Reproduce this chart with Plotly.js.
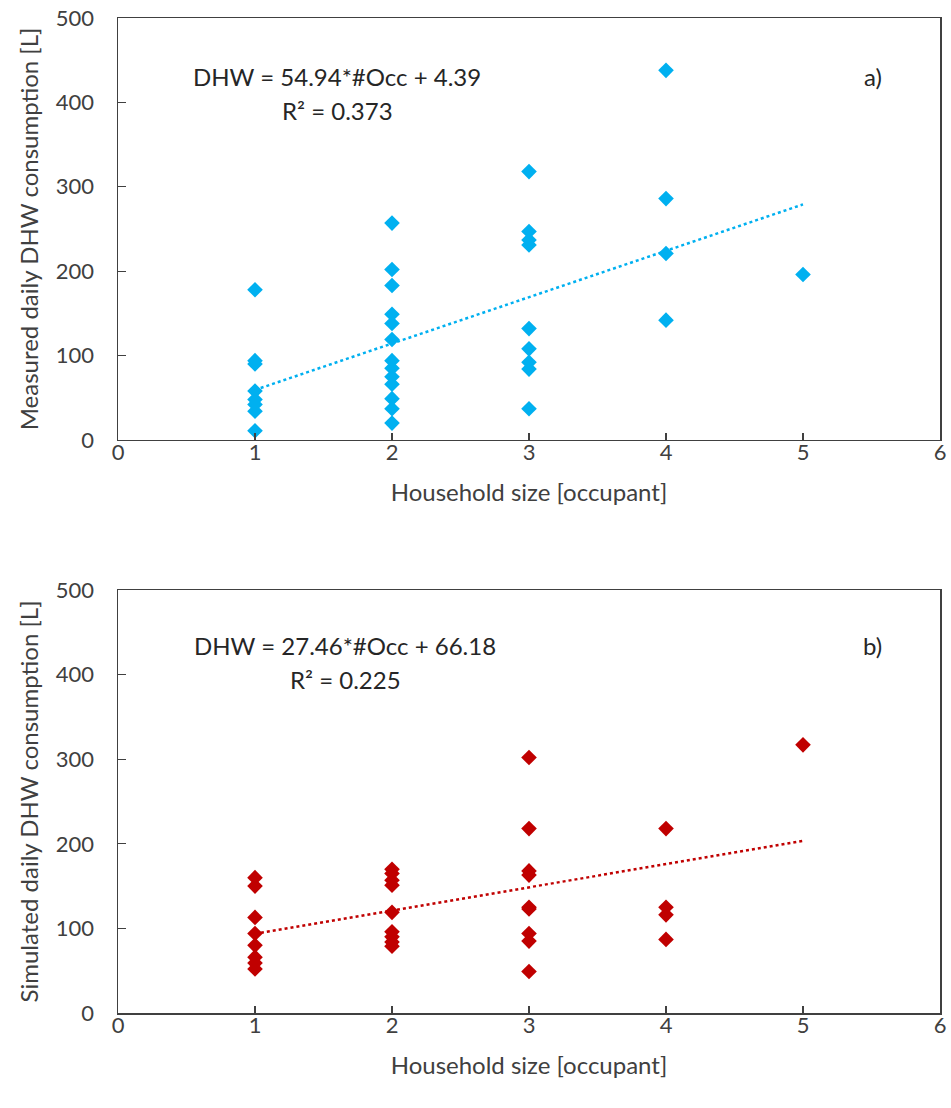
<!DOCTYPE html>
<html>
<head>
<meta charset="utf-8">
<script src="https://cdn.plot.ly/plotly-3.0.1.min.js"></script>
<style>
  html, body { margin: 0; padding: 0; background: #fff; }
  #chart { width: 951px; height: 1108px; }
</style>
</head>
<body>
<div id="chart"></div>
<script>
// Household size (occupants) and daily DHW consumption [L]
const measuredOcc = [1,1,1,1,1,1,1,1,
  2,2,2,2,2,2,2,2,2,2,2,2,2,
  3,3,3,3,3,3,3,3,3,
  4,4,4,4,
  5];
const measuredDHW = [178,94,90,58,48,42,34,11,
  257,202,183,149,138,119,94,85,75,66,49,37,20,
  318,247,237,231,132,108,92,84,37,
  438,286,221,142,
  196];

const simulatedOcc = [1,1,1,1,1,1,1,1,
  2,2,2,2,2,2,2,2,2,
  3,3,3,3,3,3,3,3,3,
  4,4,4,4,
  5];
const simulatedDHW = [160,150,113,94,80,66,59,52,
  170,165,157,151,119,96,90,84,79,
  302,218,168,163,125,123,94,85,49,
  218,125,116,87,
  317];

// Linear fit coefficients [slope, intercept] and R²
const measuredFit = [54.94, 4.39];
const simulatedFit = [27.46, 66.18];
const measuredR2 = "0.373";
const simulatedR2 = "0.225";
const fitRange = [1, 5];

const xTicks = [0,1,2,3,4,5,6];
const yTicks = [0,100,200,300,400,500];

const blue = '#00B0F0';
const red = '#C00000';
const axisCol = '#404040';
const fontFam = 'Lato, "Open Sans", sans-serif';

function fitLine(fit) {
  return fitRange.map(x => fit[0] * x + fit[1]);
}

const traces = [
  { x: measuredOcc, y: measuredDHW, xaxis: 'x', yaxis: 'y', type: 'scatter', mode: 'markers',
    marker: { symbol: 'diamond', size: 12, color: blue }, hoverinfo: 'x+y' },
  { x: fitRange, y: fitLine(measuredFit), xaxis: 'x', yaxis: 'y', type: 'scatter', mode: 'lines',
    line: { color: blue, width: 2.5, dash: 'dot' }, hoverinfo: 'skip' },
  { x: simulatedOcc, y: simulatedDHW, xaxis: 'x2', yaxis: 'y2', type: 'scatter', mode: 'markers',
    marker: { symbol: 'diamond', size: 12, color: red }, hoverinfo: 'x+y' },
  { x: fitRange, y: fitLine(simulatedFit), xaxis: 'x2', yaxis: 'y2', type: 'scatter', mode: 'lines',
    line: { color: red, width: 2.5, dash: 'dot' }, hoverinfo: 'skip' }
];

function xAxis(anchor) {
  return {
    anchor: anchor, domain: [0, 1], range: [0, 6],
    tickvals: xTicks, ticktext: xTicks.map(String),
    ticks: 'inside', ticklen: 7, tickwidth: 1.3, tickcolor: axisCol,
    ticklabelstandoff: -8,
    showline: true, linecolor: axisCol, linewidth: 1.5, mirror: true,
    showgrid: false, zeroline: false,
    tickfont: { family: fontFam, size: 22, color: axisCol },
    title: { text: 'Household size [occupant]', font: { family: fontFam, size: 24, color: axisCol }, standoff: 20 }
  };
}
function yAxis(anchor, domain, label) {
  return {
    anchor: anchor, domain: domain, range: [0, 500],
    tickvals: yTicks, ticktext: yTicks.map(String),
    ticks: 'inside', ticklen: 8, tickwidth: 1.3, tickcolor: axisCol,
    ticklabelstandoff: 18,
    showline: true, linecolor: axisCol, linewidth: 1.5, mirror: true,
    showgrid: false, zeroline: false,
    tickfont: { family: fontFam, size: 22, color: axisCol },
    title: { text: label, font: { family: fontFam, size: 24, color: axisCol }, standoff: 10 }
  };
}

function eqText(fit) {
  return 'DHW = ' + fit[0].toFixed(2) + '*#Occ + ' + fit[1].toFixed(2);
}

const annFont = { family: fontFam, size: 24, color: '#262626' };
const annotations = [
  { xref: 'x', yref: 'y', x: 1.6, y: 431, text: eqText(measuredFit), showarrow: false, font: annFont },
  { xref: 'x', yref: 'y', x: 1.6, y: 390, text: 'R² = ' + measuredR2, showarrow: false, font: annFont },
  { xref: 'x', yref: 'y', x: 5.51, y: 431, text: 'a)', showarrow: false, font: annFont },
  { xref: 'x2', yref: 'y2', x: 1.66, y: 435, text: eqText(simulatedFit), showarrow: false, font: annFont },
  { xref: 'x2', yref: 'y2', x: 1.66, y: 394, text: 'R² = ' + simulatedR2, showarrow: false, font: annFont },
  { xref: 'x2', yref: 'y2', x: 5.51, y: 435, text: 'b)', showarrow: false, font: annFont }
];

const layout = {
  width: 951, height: 1108,
  margin: { l: 118, r: 11, t: 18, b: 95 },
  paper_bgcolor: '#fff', plot_bgcolor: '#fff',
  showlegend: false,
  xaxis: xAxis('y'),
  yaxis: yAxis('x', [0.5759, 1], 'Measured daily DHW consumption [L]'),
  xaxis2: xAxis('y2'),
  yaxis2: yAxis('x2', [0, 0.4251], 'Simulated daily DHW consumption [L]'),
  annotations: annotations
};

Plotly.newPlot('chart', traces, layout, { displayModeBar: false, staticPlot: true });
</script>
</body>
</html>
